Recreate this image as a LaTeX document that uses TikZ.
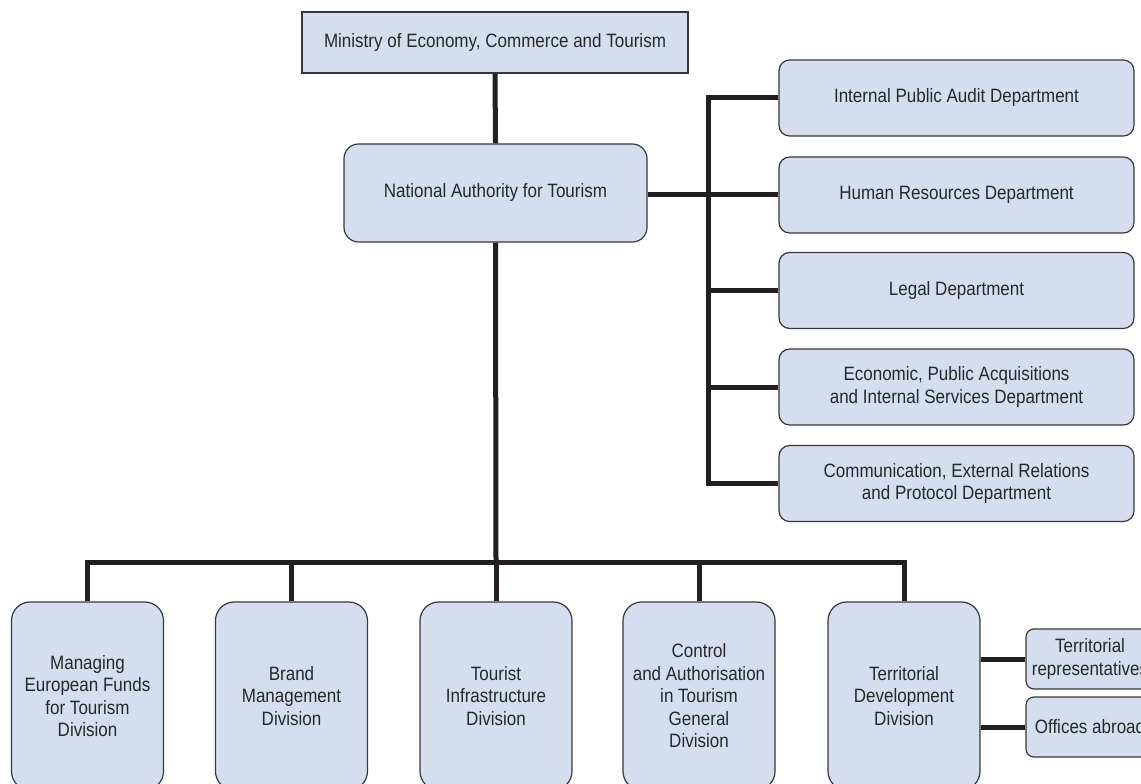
\documentclass[tikz,border=0pt]{standalone}
\usepackage{fontspec}
\setmainfont{Liberation Sans}[FakeStretch=0.88]
\usepackage{tikz}
\definecolor{boxfill}{RGB}{213,222,239}
\definecolor{boxline}{RGB}{55,55,58}
\definecolor{linkcol}{RGB}{35,31,32}
\definecolor{txtcol}{RGB}{40,40,42}
\tikzset{
  orgbox/.style={
    draw=boxline,
    fill=boxfill,
    line width=0.9pt,
    text=txtcol,
    align=center,
    inner sep=2pt,
    font=\fontsize{14.5}{16.9}\selectfont
  },
  topbox/.style={
    orgbox,
    minimum width=289.5pt,
    minimum height=45.75pt
  },
  deptbox/.style={
    orgbox,
    rounded corners=8pt,
    minimum width=266.25pt,
    minimum height=57pt
  },
  divbox/.style={
    orgbox,
    rounded corners=14pt,
    minimum width=114pt,
    minimum height=141pt
  },
  subbox/.style={
    orgbox,
    rounded corners=6pt,
    minimum width=96pt,
    minimum height=45pt
  },
  link/.style={
    draw=linkcol,
    line width=3.75pt
  }
}

\begin{document}
\begin{tikzpicture}[x=0.75pt,y=-0.75pt]
  \useasboundingbox (0,0) rectangle (1141,784);
  \clip (0,0) rectangle (1141,784);

  \node[topbox] (ministry) at (495,42.5) {Ministry of Economy, Commerce and Tourism};
  \node[orgbox,rounded corners=11pt,minimum width=227.25pt,minimum height=73.5pt]
    (nat) at (495.5,193) {National Authority for Tourism};

  % departments
  \node[deptbox] (audit) at (956.5,98) {Internal Public Audit Department};
  \node[deptbox] (hr) at (956.5,195) {Human Resources Department};
  \node[deptbox] (legal) at (956.5,290.5) {Legal Department};
  \node[deptbox] (econ) at (956.5,387) {Economic, Public Acquisitions\\and Internal Services Department};
  \node[deptbox] (comm) at (956.5,483.5) {Communication, External Relations\\and Protocol Department};

  % divisions
  \node[divbox] (funds) at (87.5,696) {Managing\\European Funds\\for Tourism\\Division};
  \node[divbox] (brand) at (291.5,696) {Brand\\Management\\Division};
  \node[divbox] (infra) at (496,696) {Tourist\\Infrastructure\\Division};
  \node[divbox] (control) at (699,696) {Control\\and Authorisation\\in Tourism\\General\\Division};
  \node[divbox] (terr) at (904,696) {Territorial\\Development\\Division};

  \node[subbox] (rep) at (1090,659) {Territorial\\representatives};
  \node[subbox] (abroad) at (1090,727) {Offices abroad};

  \coordinate (rtop) at (708,98);
  \coordinate (bbus) at (496,562);

  % links
  \draw[link] (ministry.south) -- (nat.north);
  \draw[link] (nat.east |- hr.west) -- (hr.west);
  \draw[link] (audit.west) -- (rtop) |- (comm.west);
  \foreach \d in {legal,econ}
    \draw[link] (\d.west) -- (\d.west -| rtop);
  \draw[link] (nat.south) -- (bbus);
  \draw[link] (funds.north) |- (bbus) -| (terr.north);
  \foreach \d in {brand,control}
    \draw[link] (\d.north) -- (\d.north |- bbus);
  \draw[link] (infra.north) -- (bbus);
  \draw[link] (terr.east |- rep.west) -- (rep.west);
  \draw[link] (terr.east |- abroad.west) -- (abroad.west);
\end{tikzpicture}
\end{document}
